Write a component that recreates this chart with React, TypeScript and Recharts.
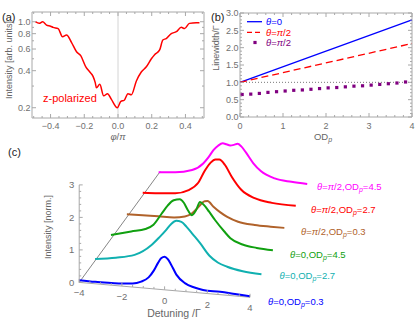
import React from "react";
import { LineChart, ComposedChart, Line, Scatter, XAxis, YAxis, ReferenceLine, ReferenceArea } from "recharts";

const FONT = "'Liberation Sans', Arial, sans-serif";
const FRAME = "#a8a8a8";
const TICK_TEXT = "#707070";

// (a) intensity vs phi/pi, z-polarized
const phi = [-0.49, -0.467, -0.447, -0.424, -0.4, -0.385, -0.355, -0.329, -0.305, -0.276, -0.246, -0.221, -0.191, -0.167, -0.148, -0.135, -0.128, -0.108, -0.085, -0.062, -0.04, -0.004, 0.017, 0.037, 0.059, 0.079, 0.109, 0.138, 0.168, 0.198, 0.217, 0.247, 0.266, 0.286, 0.316, 0.346, 0.375, 0.395, 0.424, 0.464, 0.483];
const zIntensity = [1.0, 0.97, 1.0, 0.94, 0.92, 0.9, 0.88, 0.755, 0.78, 0.68, 0.57, 0.53, 0.43, 0.39, 0.36, 0.32, 0.29, 0.31, 0.25, 0.26, 0.235, 0.2, 0.225, 0.23, 0.26, 0.255, 0.33, 0.39, 0.43, 0.5, 0.54, 0.59, 0.71, 0.73, 0.8, 0.83, 0.9, 0.88, 0.97, 0.98, 0.98];
const PHI_TICKS = [-0.5, -0.45, -0.4, -0.35, -0.3, -0.25, -0.2, -0.15, -0.1, -0.05, 0, 0.05, 0.1, 0.15, 0.2, 0.25, 0.3, 0.35, 0.4, 0.45, 0.5];
const PHI_LABELS = [-0.4, -0.2, 0, 0.2, 0.4];
const LOG_TICKS = [0.2, 0.3, 0.4, 0.5, 0.6, 0.7, 0.8, 0.9, 1.0];
const LOG_LABELS = [0.2, 0.4, 0.6, 0.8, 1.0];

// (b) linewidth vs OD
const odLine = [0, 4];
const width0 = [1, 2.8];
const widthPi2 = [1, 2.12];
const odDots = [0.05, 0.25, 0.45, 0.65, 0.85, 1.05, 1.25, 1.45, 1.65, 1.85, 2.05, 2.25, 2.45, 2.65, 2.85, 3.05, 3.25, 3.45, 3.65, 3.85];
const widthDots = [0.65, 0.66, 0.68, 0.71, 0.73, 0.75, 0.77, 0.78, 0.8, 0.82, 0.84, 0.85, 0.87, 0.89, 0.9, 0.92, 0.94, 0.96, 0.98, 1.01];
const OD_TICKS = [0, 0.2, 0.4, 0.6, 0.8, 1, 1.2, 1.4, 1.6, 1.8, 2, 2.2, 2.4, 2.6, 2.8, 3, 3.2, 3.4, 3.6, 3.8, 4];
const OD_LABELS = [0, 1, 2, 3, 4];
const LW_TICKS = [0, 0.1, 0.2, 0.3, 0.4, 0.5, 0.6, 0.7, 0.8, 0.9, 1, 1.1, 1.2, 1.3, 1.4, 1.5, 1.6, 1.7, 1.8, 1.9, 2, 2.1, 2.2, 2.3, 2.4, 2.5, 2.6, 2.7, 2.8, 2.9, 3];
const LW_LABELS = [0, 0.5, 1, 1.5, 2, 2.5, 3];

// (c) spectra, front (depth 0) to back (depth 5)
const blueDet = [-4, -3.25, -2.5, -2, -1.5, -1.1, -0.75, -0.5, -0.3, -0.15, 0, 0.15, 0.3, 0.55, 0.95, 1.4, 1.8, 2.6, 3.3, 4];
const blueInt = [0.07, 0.06, 0.07, 0.08, 0.11, 0.19, 0.34, 0.57, 0.82, 0.97, 1.02, 0.95, 0.8, 0.5, 0.26, 0.15, 0.1, 0.09, 0.06, 0.03];
const cyanDet = [-4, -3, -2.1, -1.3, -0.9, -0.6, -0.35, -0.1, 0.15, 0.4, 0.7, 1.05, 1.5, 1.9, 2.35, 3.1, 4];
const cyanInt = [0.05, 0.15, 0.29, 0.64, 0.92, 1.15, 1.36, 1.48, 1.46, 1.32, 1.1, 0.84, 0.47, 0.28, 0.17, 0.07, 0.03];
const greenDet = [-4, -3, -2.3, -1.9, -1.5, -1.2, -0.9, -0.6, -0.4, -0.2, 0, 0.2, 0.4, 0.6, 0.85, 1.15, 1.6, 1.9, 2.5, 3.2, 4];
const greenInt = [0.13, 0.3, 0.42, 0.58, 0.96, 1.24, 1.43, 1.48, 1.38, 1.15, 1.0, 1.17, 1.45, 1.36, 1.16, 0.9, 0.56, 0.36, 0.19, 0.12, 0.09];
const brownDet = [-4, -3.2, -2.4, -1.6, -1.05, -0.7, -0.45, -0.25, -0.05, 0.1, 0.4, 0.75, 1.1, 1.65, 2.5, 3.3, 4];
const brownInt = [0.1, 0.11, 0.12, 0.13, 0.19, 0.31, 0.48, 0.64, 0.76, 0.77, 0.6, 0.43, 0.3, 0.17, 0.11, 0.1, 0.1];
const redDet = [-4, -3.2, -2.3, -1.6, -1.1, -0.75, -0.45, -0.2, 0, 0.3, 0.65, 1.15, 1.85, 2.75, 4];
const redInt = [0.09, 0.12, 0.17, 0.32, 0.6, 1.04, 1.33, 1.45, 1.46, 1.29, 0.91, 0.49, 0.24, 0.13, 0.1];
const magDet = [-4, -3.1, -2.2, -1.6, -1.3, -1.05, -0.8, -0.55, -0.35, -0.15, 0.05, 0.25, 0.45, 0.7, 1.1, 1.5, 2.25, 3.15, 4];
const magInt = [0.05, 0.1, 0.23, 0.5, 0.75, 1.0, 1.17, 1.27, 1.25, 1.22, 1.25, 1.3, 1.22, 1.02, 0.66, 0.41, 0.19, 0.12, 0.09];
const DET_TICKS = [-4, -3.5, -3, -2.5, -2, -1.5, -1, -0.5, 0, 0.5, 1, 1.5, 2, 2.5, 3, 3.5, 4];
const DET_LABELS = [-4, -2, 0, 2, 4];
const INT_TICKS = [0, 0.2, 0.4, 0.6, 0.8, 1, 1.2, 1.4, 1.6, 1.8, 2, 2.2, 2.4, 2.6, 2.8, 3];
const INT_LABELS = [0, 1, 2, 3];

// oblique view of the waterfall: depth step, perspective shrink, tilt of the detuning axis
const STEP_X = 0.744;
const STEP_Y = 0.669;
const SHRINK = 0.026;
const TILT = 0.0572;
const project = (d: number, v: number, k: number) => {
  const s = 1 - SHRINK * k;
  return { X: -4 + STEP_X * k + (d + 4) * s, Y: STEP_Y * k - TILT * (d + 4) * s + s * v };
};

const curves = [
  { det: magDet, val: magInt, k: 5, color: "#ff00ff", theta: "π/2", od: "4.5" },
  { det: redDet, val: redInt, k: 4, color: "#ff0000", theta: "π/2", od: "2.7" },
  { det: brownDet, val: brownInt, k: 3, color: "#b0622a", theta: "π/2", od: "0.3" },
  { det: greenDet, val: greenInt, k: 2, color: "#10a010", theta: "0", od: "4.5" },
  { det: cyanDet, val: cyanInt, k: 1, color: "#10b0b0", theta: "0", od: "2.7" },
  { det: blueDet, val: blueInt, k: 0, color: "#0000ff", theta: "0", od: "0.3" },
];
const labelPos = [
  [317, 190], [311, 212.5], [301, 235], [290, 257.5], [279.5, 279], [268, 304.5],
];

const isIn = (v: number, list: number[]) => list.some((l) => Math.abs(l - v) < 1e-6);
const fmt1 = (v: number) => (v < 0 ? "\u2212" : "") + Math.abs(v).toFixed(1);
const fmt0 = (v: number) => (v < 0 ? "\u2212" : "") + Math.abs(v).toFixed(0);

function bottomTick(span: number, labels: number[], fmt: (v: number) => string, dy: number) {
  return (p: any) => {
    const v = p.payload.value;
    const major = isIn(v, labels);
    const len = major ? 4 : 2;
    return (
      <g>
        <line x1={p.x} x2={p.x} y1={p.y} y2={p.y - len} stroke={FRAME} />
        <line x1={p.x} x2={p.x} y1={p.y - span} y2={p.y - span + len} stroke={FRAME} />
        {major && (
          <text x={p.x} y={p.y + dy} textAnchor="middle" fontSize={9} fill={TICK_TEXT} fontFamily={FONT}>
            {fmt(v)}
          </text>
        )}
      </g>
    );
  };
}

function leftTick(span: number, labels: number[], fmt: (v: number) => string) {
  return (p: any) => {
    const v = p.payload.value;
    const major = isIn(v, labels);
    const len = major ? 4 : 2;
    return (
      <g>
        <line x1={p.x} x2={p.x + len} y1={p.y} y2={p.y} stroke={FRAME} />
        <line x1={p.x + span} x2={p.x + span - len} y1={p.y} y2={p.y} stroke={FRAME} />
        {major && (
          <text x={p.x - 1.5} y={p.y + 3.2} textAnchor="end" fontSize={9} fill={TICK_TEXT} fontFamily={FONT}>
            {fmt(v)}
          </text>
        )}
      </g>
    );
  };
}

const intTick = (p: any) => {
  const v = p.payload.value;
  const major = isIn(v, INT_LABELS);
  const x = p.x + 0.7;
  return (
    <g>
      <line x1={x} x2={x + (major ? 3.5 : 2)} y1={p.y} y2={p.y} stroke={FRAME} />
      {major && (
        <text x={x - 5} y={p.y + 3.3} textAnchor="end" fontSize={9.5} fill={TICK_TEXT} fontFamily={FONT}>
          {v}
        </text>
      )}
    </g>
  );
};

const detDot = (p: any) => {
  const major = isIn(p.payload.d, DET_LABELS);
  return (
    <g key={"dt" + p.index}>
      <line x1={p.cx} x2={p.cx} y1={p.cy} y2={p.cy - (major ? 3.5 : 2)} stroke={FRAME} />
      {major && (
        <text x={p.cx} y={p.cy + 14} textAnchor="middle" fontSize={9.5} fill={TICK_TEXT} fontFamily={FONT}>
          {fmt0(p.payload.d)}
        </text>
      )}
    </g>
  );
};

const square = (p: any) => <rect x={p.cx - 1.6} y={p.cy - 1.6} width={3.2} height={3.2} fill="#800080" />;

export default function App() {
  const dataA = phi.map((x, i) => ({ x, y: zIntensity[i] }));
  const line0 = odLine.map((x, i) => ({ x, y: width0[i] }));
  const linePi = odLine.map((x, i) => ({ x, y: widthPi2[i] }));
  const dots = odDots.map((x, i) => ({ x, y: widthDots[i] }));
  const detAxis = DET_TICKS.map((d) => ({ d, ...project(d, 0, 0) }));
  const depthAxis = [project(-4, 0, 0), project(-4, 0, 5.1)];
  const intAxis = [project(-4, 0, 0), project(-4, 3, 0)];

  const txt = { fontFamily: FONT, fontSize: 9.5, fill: "#666" };

  return (
    <div style={{ position: "absolute", left: 0, top: 0, width: 415, height: 320, background: "#fff", overflow: "hidden" }}>
      <div style={{ position: "absolute", left: 0, top: 0 }}>
        <LineChart width={210} height={145} data={dataA} margin={{ top: 12, right: 6, bottom: 0, left: 0 }}>
          <XAxis dataKey="x" type="number" domain={[-0.51, 0.51]} ticks={PHI_TICKS} interval={0} height={27}
            axisLine={false} tickLine={false} tickSize={0} tickMargin={0} tick={bottomTick(106, PHI_LABELS, fmt1, 10.5)} allowDataOverflow />
          <YAxis type="number" scale="log" domain={[0.165, 1.2]} ticks={LOG_TICKS} interval={0} width={32}
            axisLine={false} tickLine={false} tickSize={0} tickMargin={0} tick={leftTick(172, LOG_LABELS, fmt1)} allowDataOverflow />
          <ReferenceLine x={0} stroke="#d4d4d4" strokeWidth={1} />
          <ReferenceArea x1={-0.51} x2={0.51} y1={0.165} y2={1.2} fill="none" stroke={FRAME} strokeWidth={1} />
          <Line dataKey="y" type="monotone" stroke="#ff0000" strokeWidth={1.5} dot={false} isAnimationActive={false} />
        </LineChart>
      </div>

      <div style={{ position: "absolute", left: 200, top: 0 }}>
        <ComposedChart width={215} height={145} margin={{ top: 13, right: 3, bottom: 0, left: 0 }}>
          <XAxis dataKey="x" type="number" domain={[0, 4]} ticks={OD_TICKS} interval={0} height={28}
            axisLine={false} tickLine={false} tickSize={0} tickMargin={0} tick={bottomTick(104, OD_LABELS, fmt0, 11.5)} />
          <YAxis type="number" domain={[0, 3]} ticks={LW_TICKS} interval={0} width={40}
            axisLine={false} tickLine={false} tickSize={0} tickMargin={0} tick={leftTick(172, LW_LABELS, fmt1)} />
          <ReferenceArea x1={0} x2={4} y1={0} y2={3} fill="none" stroke={FRAME} strokeWidth={1} />
          <ReferenceLine y={1} stroke="#555" strokeWidth={0.8} strokeDasharray="1 2" />
          <Line data={line0} dataKey="y" stroke="#0000ff" strokeWidth={1.3} dot={false} isAnimationActive={false} />
          <Line data={linePi} dataKey="y" stroke="#ff0000" strokeWidth={1.3} strokeDasharray="7 4" dot={false} isAnimationActive={false} />
          <Scatter data={dots} dataKey="y" shape={square} isAnimationActive={false} />
        </ComposedChart>
      </div>

      <div style={{ position: "absolute", left: 0, top: 130 }}>
        <LineChart width={415} height={190} margin={{ top: 5, right: 5, bottom: 2, left: 48.5 }}>
          <XAxis dataKey="X" type="number" domain={[-4.033, 11.494]} hide />
          <YAxis type="number" domain={[-1.0954, 4.535]} ticks={INT_TICKS} interval={0} width={30}
            axisLine={false} tickLine={false} tickSize={0} tickMargin={0} tick={intTick} />
          <Line data={intAxis} dataKey="Y" stroke={FRAME} strokeWidth={1} dot={false} isAnimationActive={false} />
          <Line data={depthAxis} dataKey="Y" stroke="#333" strokeWidth={0.6} dot={false} isAnimationActive={false} />
          <Line data={detAxis} dataKey="Y" stroke={FRAME} strokeWidth={1} dot={detDot} isAnimationActive={false} />
          {curves.map((c) => (
            <Line key={c.k} data={c.det.map((d, i) => project(d, c.val[i], c.k))} dataKey="Y" type="monotone"
              stroke={c.color} strokeWidth={2} dot={false} isAnimationActive={false} />
          ))}
        </LineChart>
      </div>

      <svg width={415} height={320} style={{ position: "absolute", left: 0, top: 0, pointerEvents: "none" }}>
        <text x={2} y={21} fontFamily={FONT} fontSize={11} fill="#222">(a)</text>
        <text x={211} y={21} fontFamily={FONT} fontSize={11} fill="#222">(b)</text>
        <text x={8} y={156} fontFamily={FONT} fontSize={11} fill="#222">(c)</text>
        <text x={43} y={102} fontFamily={FONT} fontSize={11} fill="#ff0000">z-polarized</text>

        <text x={118} y={140} textAnchor="middle" {...txt}>
          <tspan fontStyle="italic">φ</tspan>/<tspan fontStyle="italic">π</tspan>
        </text>
        <text x={323} y={140} textAnchor="middle" {...txt}>
          OD<tspan fontSize={7} dy={2} fontStyle="italic">p</tspan>
        </text>
        <text transform="translate(12,60) rotate(-90)" textAnchor="middle" {...txt} fontSize={9}>Intensity [arb. units]</text>
        <text transform="translate(219,48) rotate(-90)" textAnchor="middle" {...txt} fontSize={9}>Linewidth/Γ</text>
        <text transform="translate(50.5,227) rotate(-90)" textAnchor="middle" {...txt} fontSize={9}>Intensity [norm.]</text>
        <text x={174} y={316.5} textAnchor="middle" {...txt} fontSize={10.5}>Detuning /Γ</text>

        <line x1={247} x2={262} y1={21.7} y2={21.7} stroke="#0000ff" strokeWidth={1.3} />
        <line x1={247} x2={262} y1={32.3} y2={32.3} stroke="#ff0000" strokeWidth={1.3} strokeDasharray="5 3" />
        <rect x={253.4} y={40.9} width={3.2} height={3.2} fill="#800080" />
        <text x={266} y={25} fontFamily={FONT} fontSize={9.5} fill="#0000ff">
          <tspan fontStyle="italic">θ</tspan>=0
        </text>
        <text x={266} y={35.6} fontFamily={FONT} fontSize={9.5} fill="#ff0000">
          <tspan fontStyle="italic">θ</tspan>=<tspan fontStyle="italic">π</tspan>/2
        </text>
        <text x={266} y={46} fontFamily={FONT} fontSize={9.5} fill="#800080">
          <tspan fontStyle="italic">θ</tspan>=<tspan fontStyle="italic">π</tspan>/2
        </text>

        {curves.map((c, i) => (
          <text key={c.k} x={labelPos[i][0]} y={labelPos[i][1]} fontFamily={FONT} fontSize={9.5} fill={c.color}>
            <tspan fontStyle="italic">θ</tspan>=
            {c.theta === "0" ? "0" : <><tspan fontStyle="italic">π</tspan>/2</>},OD
            <tspan fontSize={7} dy={2} fontStyle="italic">p</tspan>
            <tspan dy={-2}>={c.od}</tspan>
          </text>
        ))}
      </svg>
    </div>
  );
}
